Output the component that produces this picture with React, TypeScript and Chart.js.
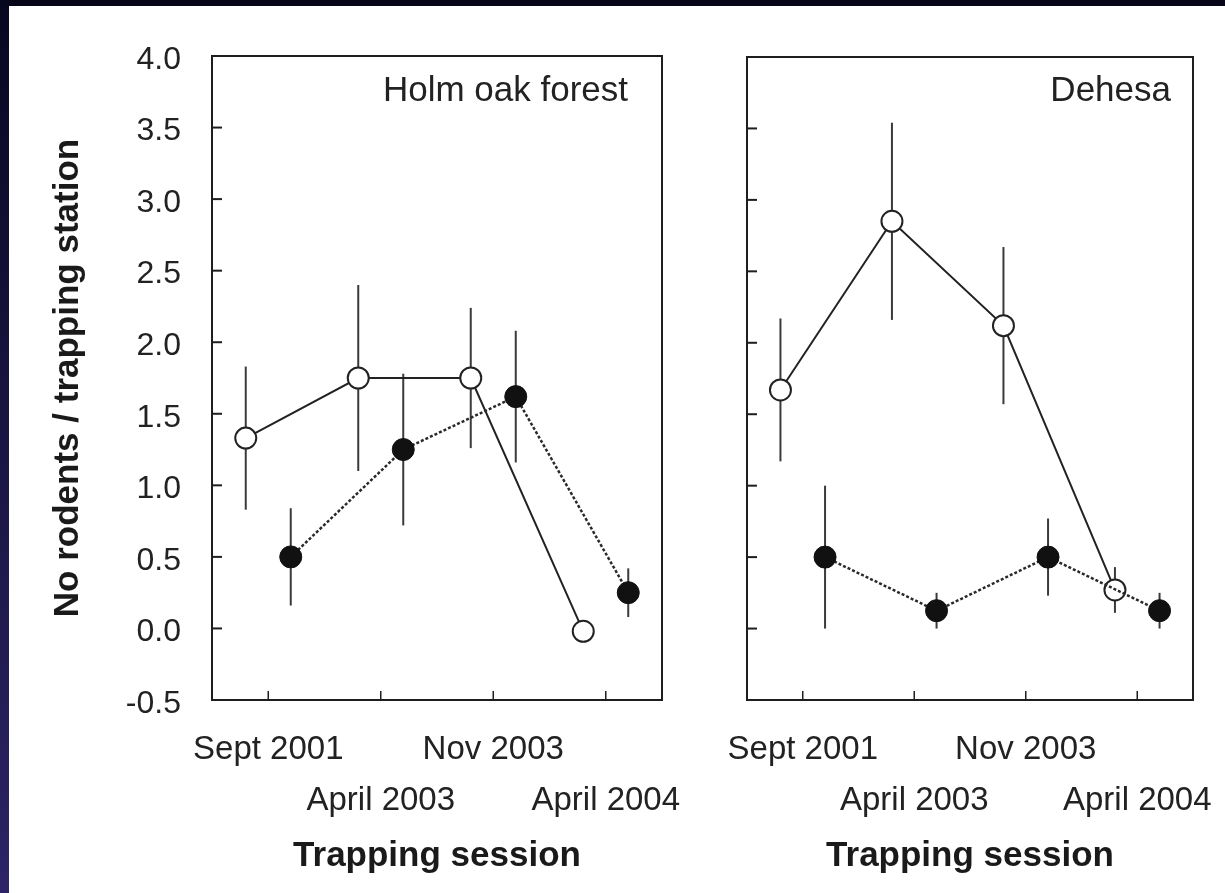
import { useEffect, useRef } from "react";
import { Chart, registerables } from "chart.js";

Chart.register(...registerables);

// ---------- data ----------
const sessions = ["Sept 2001", "April 2003", "Nov 2003", "April 2004"];
const xTickValues = [0, 1, 2, 3];
const yTickValues = [-0.5, 0, 0.5, 1, 1.5, 2, 2.5, 3, 3.5, 4];
const yMin = -0.5;
const yMax = 4.0;
const xMin = -0.5;
const xMax = 3.5;

const holmOpen = [1.33, 1.75, 1.75, -0.02];
const holmOpenErr = [0.5, 0.65, 0.49, 0];
const holmFilled = [0.5, 1.25, 1.62, 0.25];
const holmFilledErr = [0.34, 0.53, 0.46, 0.17];

const dehesaOpen = [1.67, 2.85, 2.12, 0.27];
const dehesaOpenErr = [0.5, 0.69, 0.55, 0.16];
const dehesaFilled = [0.5, 0.125, 0.5, 0.125];
const dehesaFilledErr = [0.5, 0.125, 0.27, 0.125];

const openOffset = -0.2;
const filledOffset = 0.2;

const FONT = '"Liberation Sans", Arial, Helvetica, sans-serif';
const CANVAS_H = 893;

type PanelProps = {
  left: number;
  width: number;
  chartLeft: number; // absolute page x
  chartRight: number;
  chartTop: number;
  chartBottom: number;
  showY: boolean;
  label: string;
  labelInset: number;
  labelDrop: number;
  openVals: number[];
  openErr: number[];
  filledVals: number[];
  filledErr: number[];
};

function Panel(p: PanelProps) {
  const ref = useRef<HTMLCanvasElement>(null);

  useEffect(() => {
    const series = [
      { vals: p.openVals, errs: p.openErr, off: openOffset },
      { vals: p.filledVals, errs: p.filledErr, off: filledOffset },
    ];

    const errorBars = {
      id: "errorBars",
      beforeDatasetsDraw(chart: any) {
        const { ctx, scales } = chart;
        const xs = scales.x;
        const ys = scales.y;
        ctx.save();
        ctx.strokeStyle = "#3a3a3a";
        ctx.lineWidth = 2;
        series.forEach((s) => {
          s.vals.forEach((v, i) => {
            const e = s.errs[i];
            if (!e) return;
            const x = xs.getPixelForValue(i + s.off);
            ctx.beginPath();
            ctx.moveTo(x, ys.getPixelForValue(v - e));
            ctx.lineTo(x, ys.getPixelForValue(v + e));
            ctx.stroke();
          });
        });
        ctx.restore();
      },
    };

    const frame = {
      id: "frame",
      afterDraw(chart: any) {
        const { ctx, chartArea, scales } = chart;
        const { left, right, top, bottom } = chartArea;
        ctx.save();
        ctx.strokeStyle = "#1e1e1e";
        ctx.lineWidth = 2;
        ctx.strokeRect(left, top, right - left, bottom - top);
        // inward y ticks
        ctx.lineWidth = 2;
        scales.y.ticks.forEach((t: any) => {
          const y = scales.y.getPixelForValue(t.value);
          ctx.beginPath();
          ctx.moveTo(left, y);
          ctx.lineTo(left + 10, y);
          ctx.stroke();
        });
        // inward x ticks
        ctx.lineWidth = 1.5;
        scales.x.ticks.forEach((t: any) => {
          const x = scales.x.getPixelForValue(t.value);
          ctx.beginPath();
          ctx.moveTo(x, bottom);
          ctx.lineTo(x, bottom - 9);
          ctx.stroke();
        });
        // panel label
        ctx.fillStyle = "#222";
        ctx.font = `35px ${FONT}`;
        ctx.textAlign = "right";
        ctx.textBaseline = "alphabetic";
        ctx.fillText(p.label, right - p.labelInset, top + p.labelDrop);
        ctx.restore();
      },
    };

    const chart = new Chart(ref.current as HTMLCanvasElement, {
      type: "scatter",
      data: {
        datasets: [
          {
            label: "filled",
            data: p.filledVals.map((v, i) => ({ x: i + filledOffset, y: v })),
            showLine: true,
            borderColor: "#2a2a2a",
            borderWidth: 2.5,
            borderDash: [3, 2],
            pointRadius: 11,
            pointBorderWidth: 1,
            pointBackgroundColor: "#111",
            pointBorderColor: "#111",
            tension: 0,
          },
          {
            label: "open",
            data: p.openVals.map((v, i) => ({ x: i + openOffset, y: v })),
            showLine: true,
            borderColor: "#222",
            borderWidth: 2,
            pointRadius: 10.5,
            pointBorderWidth: 2,
            pointBackgroundColor: "#fff",
            pointBorderColor: "#222",
            tension: 0,
          },
        ],
      } as any,
      options: {
        animation: false,
        responsive: false,
        devicePixelRatio: 1,
        events: [],
        layout: {
          padding: {
            left: 0,
            top: p.chartTop,
            right: p.left + p.width - p.chartRight,
            bottom: 0,
          },
        },
        plugins: {
          legend: { display: false },
          tooltip: { enabled: false },
        },
        scales: {
          x: {
            type: "linear",
            min: xMin,
            max: xMax,
            afterBuildTicks: (s: any) => {
              s.ticks = xTickValues.map((v) => ({ value: v }));
            },
            afterFit: (s: any) => {
              s.height = CANVAS_H - p.chartBottom;
            },
            grid: { display: false, drawTicks: false },
            border: { display: false },
            ticks: {
              autoSkip: false,
              maxRotation: 0,
              minRotation: 0,
              padding: 24,
              color: "#222",
              font: { family: FONT, size: 33, lineHeight: 1.55 },
              callback: (v: any) => {
                const i = Math.round(Number(v));
                return i % 2 === 0 ? [sessions[i]] : ["", sessions[i]];
              },
            },
            title: {
              display: true,
              text: "Trapping session",
              color: "#1a1a1a",
              font: { family: FONT, size: 35, weight: "bold", lineHeight: 1.2 },
              padding: { top: 0, bottom: 16 },
            },
          },
          y: {
            type: "linear",
            min: yMin,
            max: yMax,
            afterBuildTicks: (s: any) => {
              s.ticks = yTickValues.map((v) => ({ value: v }));
            },
            afterFit: (s: any) => {
              s.width = p.chartLeft - p.left;
            },
            grid: { display: false, drawTicks: false },
            border: { display: false },
            ticks: {
              display: p.showY,
              padding: 31,
              labelOffset: 4,
              color: "#222",
              font: { family: FONT, size: 32 },
              callback: (v: any) => Number(v).toFixed(1),
            },
            title: {
              display: p.showY,
              text: "No rodents / trapping station",
              color: "#1a1a1a",
              font: { family: FONT, size: 35, weight: "bold", lineHeight: 1.2 },
              padding: { top: 47, bottom: 0 },
            },
          },
        },
      } as any,
      plugins: [errorBars, frame],
    });
    return () => chart.destroy();
  }, []);

  return (
    <canvas
      ref={ref}
      width={p.width}
      height={CANVAS_H}
      style={{
        position: "absolute",
        left: p.left,
        top: 0,
        width: p.width,
        height: CANVAS_H,
      }}
    />
  );
}

export default function App() {
  return (
    <div
      style={{
        position: "absolute",
        left: 0,
        top: 0,
        width: 1225,
        height: 893,
        overflow: "hidden",
        background: "#ffffff",
      }}
    >
      <div
        style={{
          position: "absolute",
          left: 0,
          top: 0,
          width: 1225,
          height: 6,
          background: "#060518",
        }}
      />
      <div
        style={{
          position: "absolute",
          left: 0,
          top: 0,
          width: 9,
          height: 893,
          background: "linear-gradient(to bottom, #080720, #2c2466)",
        }}
      />
      <Panel
        left={0}
        width={760}
        chartLeft={212}
        chartRight={662}
        chartTop={56}
        chartBottom={700}
        showY={true}
        label="Holm oak forest"
        labelInset={34}
        labelDrop={45}
        openVals={holmOpen}
        openErr={holmOpenErr}
        filledVals={holmFilled}
        filledErr={holmFilledErr}
      />
      <Panel
        left={680}
        width={600}
        chartLeft={747}
        chartRight={1193}
        chartTop={57}
        chartBottom={700}
        showY={false}
        label="Dehesa"
        labelInset={22}
        labelDrop={44}
        openVals={dehesaOpen}
        openErr={dehesaOpenErr}
        filledVals={dehesaFilled}
        filledErr={dehesaFilledErr}
      />
    </div>
  );
}
